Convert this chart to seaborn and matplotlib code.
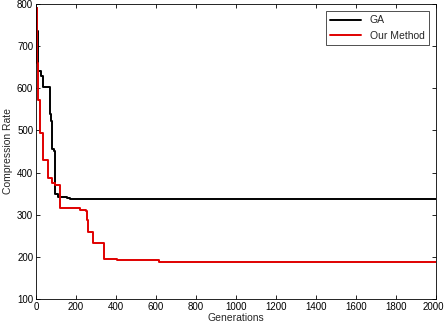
import matplotlib
matplotlib.use("Agg")
import matplotlib.pyplot as plt
import matplotlib.transforms as mtransforms
import seaborn as sns
import pandas as pd

# Generations (step points) and values
ga_gen = [0, 3, 10, 25, 35, 70, 75, 80, 90, 95, 110, 155, 170, 2000]
ga_val = [790, 735, 641, 630, 603, 540, 522, 456, 452, 348, 342, 339, 337, 337]

our_gen = [0, 3, 8, 20, 37, 62, 78, 95, 120, 220, 250, 257, 260, 287, 340, 403, 617, 2000]
our_val = [790, 660, 572, 494, 430, 387, 376, 370, 315, 312, 310, 287, 259, 234, 196, 193, 188, 188]

series_names = ["GA", "Our Method"]
x_ticks = [0, 200, 400, 600, 800, 1000, 1200, 1400, 1600, 1800, 2000]
y_ticks = [100, 200, 300, 400, 500, 600, 700, 800]

df = pd.concat([
    pd.DataFrame({"Generations": ga_gen, "Compression Rate": ga_val, "Method": series_names[0]}),
    pd.DataFrame({"Generations": our_gen, "Compression Rate": our_val, "Method": series_names[1]}),
], ignore_index=True)

sns.set_theme(style="white")
plt.rcParams['font.family'] = ['Liberation Sans', 'DejaVu Sans']

fig = plt.figure(figsize=(4.45, 3.25), dpi=100)
ax = fig.add_axes([36/445, 1 - 299/325, 400/445, 295/325])

sns.lineplot(data=df, x="Generations", y="Compression Rate", hue="Method",
             palette={"GA": "black", "Our Method": "#e00000"},
             drawstyle="steps-post", linewidth=1.4, ax=ax, estimator=None, sort=False)

ax.set_xlim(0, 2000)
ax.set_ylim(100, 800)
ax.set_xticks(x_ticks)
ax.set_yticks(y_ticks)
ax.tick_params(direction="in", length=3, labelsize=7, colors="black", width=0.6,
               top=True, right=True, bottom=True, left=True, pad=2)
for s in ax.spines.values():
    s.set_color("black")
    s.set_linewidth(0.6)
ax.set_xlabel("Generations", fontsize=7.5, labelpad=1)
ax.set_ylabel("Compression Rate", fontsize=7.5, labelpad=3)

# keep the last x tick label inside the canvas
last = ax.get_xticklabels()[-1]
last.set_transform(last.get_transform() + mtransforms.ScaledTranslation(-3/100, 0, fig.dpi_scale_trans))

leg = ax.legend(loc="upper right", fontsize=7.5, frameon=True, fancybox=False,
                edgecolor="black", handlelength=3, borderaxespad=0.7, title=None)
leg.get_frame().set_linewidth(0.6)

fig.savefig("out.png", dpi=100)
